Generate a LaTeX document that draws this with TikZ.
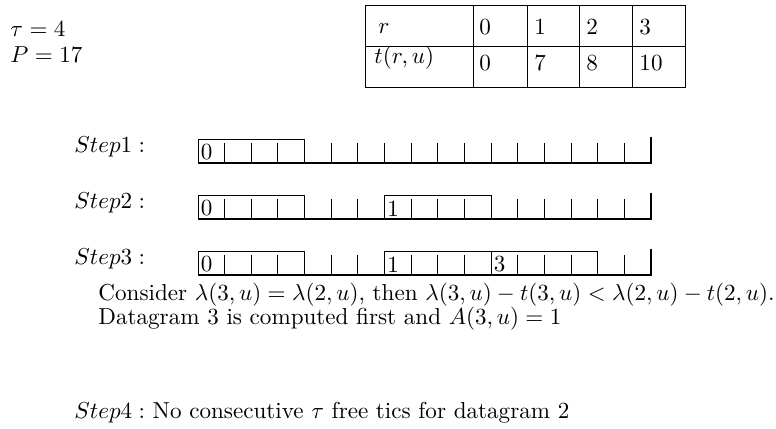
\documentclass[tikz,border=0pt]{standalone}
\usepackage{amsmath, amssymb}
\usepackage{tikz}
\usetikzlibrary{positioning, calc}

% time line: first tic and width of one tic
\newcommand{\tzero}{198}
\newcommand{\tslot}{26.65}

\begin{document}
\begin{tikzpicture}[x=0.433pt, y=-0.433pt,
    txt/.style={anchor=base west, inner sep=0pt},
    ticlabel/.style={anchor=south west, inner sep=1pt},
    tic/.style={thin},
    slotbox/.style={thin},
    axisline/.style={semithick}]
    \useasboundingbox (0,0) rectangle (776,429);

    \node[txt] (tau) at (10,37) {$\tau = 4$};
    \node[txt] (per) at (10,63) {$P = 17$};

    % table of t(r,u)
    \draw (365,5) rectangle (685,87);
    \draw (365,46) -- (685,46);
    \foreach \cx in {473,527,579,632}
        \draw (\cx,5) -- (\cx,87);
    \node[txt] (rhead) at (378,34) {$r$};
    \node[txt] (thead) at (374,64) {$t(r,u)$};
    \node[txt] (r0) at (479,35) {$0$};
    \node[txt] (r1) at (534,35) {$1$};
    \node[txt] (r2) at (586,35) {$2$};
    \node[txt] (r3) at (639,35) {$3$};
    \node[txt] (t0) at (479,71) {$0$};
    \node[txt] (t1) at (534,71) {$7$};
    \node[txt] (t2) at (586,71) {$8$};
    \node[txt] (t3) at (639,71) {$10$};

    % the three time lines
    \foreach \yb in {163,219,275} {
        \draw[axisline] (\tzero,\yb) -- (651,\yb) -- (651,\yb-26);
        \foreach \k in {1,...,16}
            \draw[tic] (\tzero+\tslot*\k,\yb) -- ++(0,-20);
    }
    \node[txt] (step1) at (74,153) {$Step1:$};
    \node[txt] (step2) at (74,209) {$Step2:$};
    \node[txt] (step3) at (74,265) {$Step3:$};

    % datagrams, tau tics each
    \draw[slotbox] (\tzero,163) rectangle ++(4*\tslot,-24);
    \node[ticlabel] (s1d0) at (\tzero,163) {0};

    \draw[slotbox] (\tzero,219) rectangle ++(4*\tslot,-24);
    \draw[slotbox] (\tzero+7*\tslot,219) rectangle ++(4*\tslot,-24);
    \node[ticlabel] (s2d0) at (\tzero,219) {0};
    \node[ticlabel] (s2d1) at (\tzero+7*\tslot,219) {1};

    \draw[slotbox] (\tzero,275) rectangle ++(4*\tslot,-24);
    \draw[slotbox] (\tzero+7*\tslot,275) rectangle ++(4*\tslot,-24);
    \draw[slotbox] (\tzero+11*\tslot,275) rectangle ++(4*\tslot,-24);
    \node[ticlabel] (s3d0) at (\tzero,275) {0};
    \node[ticlabel] (s3d1) at (\tzero+7*\tslot,275) {1};
    \node[ticlabel] (s3d3) at (\tzero+11*\tslot,275) {3};

    \node[txt] (cons) at (98,301)
        {Consider $\lambda(3,u)=\lambda(2,u)$, then $\lambda(3,u)-t(3,u)<\lambda(2,u)-t(2,u)$.};
    \node[txt] (first) at (98,324) {Datagram 3 is computed first and $A(3,u)=1$};

    \node[txt] (step4) at (74,418) {$Step4:$ No consecutive $\tau$ free tics for datagram 2};
\end{tikzpicture}
\end{document}
